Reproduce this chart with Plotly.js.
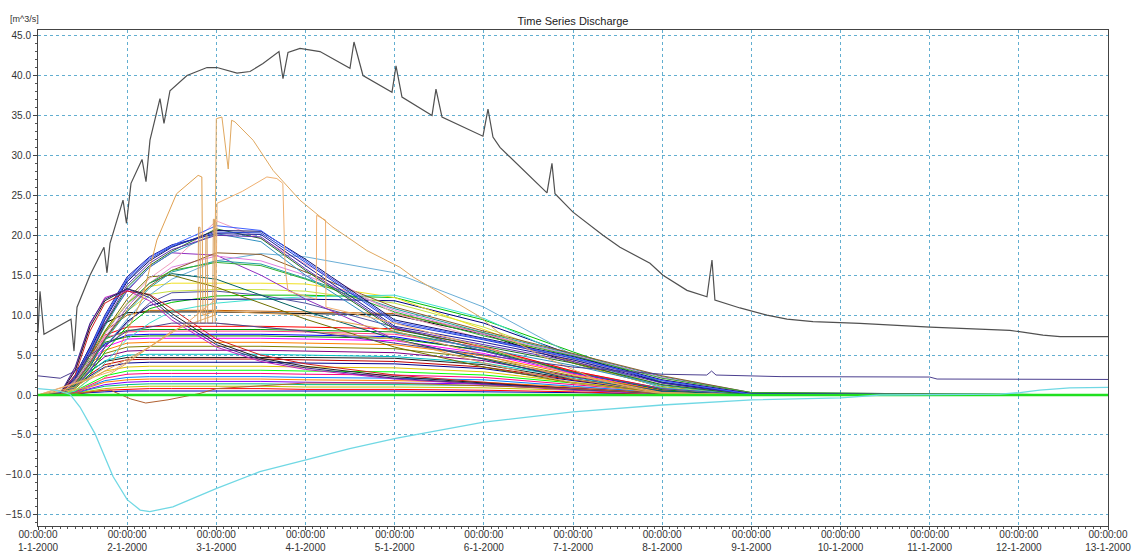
<!DOCTYPE html>
<html><head><meta charset="utf-8">
<script src="https://cdn.plot.ly/plotly-3.0.1.min.js"></script>
<style>html,body{margin:0;padding:0;background:#fff}#chart{width:1138px;height:554px}</style>
</head><body><div id="chart"></div>
<script>
// ---------- data (hours after 1-1-2000 00:00) ----------
const mainT = [0,0.54,1.61,8.88,9.69,10.5,14.0,17.76,18.57,19.38,22.88,23.82,25.03,28.0,29.07,30.14,32.83,33.91,35.52,40.1,45.49,48.18,53.56,57.06,60.56,64.86,65.94,67.29,70.52,75.9,83.97,85.05,87.47,95.28,96.36,97.97,106.05,107.12,108.74,119.77,121.12,122.46,124.35,137.0,138.34,139.15,144.0,152.07,156.65,164.72,168.22,174.68,180.06,181.41,182.2,188.94,196.2,201.6,208.6,221.2,240.1,261.6,270.5,275.1,288];
const mainV = [7.8,13.0,7.6,9.5,5.5,11,15,18.5,15.3,19,24.4,21.5,26.5,29.5,26.7,31.9,37.1,34,38.1,40,41.0,41.0,40.3,40.5,41.5,43.0,39.6,42.9,43.4,43.0,40.9,44.2,40.0,37.9,41.2,37.3,35.0,38.3,34.8,32.4,35.8,32.3,31.0,25.3,29.0,25.2,22.9,20,18.5,16.5,15.0,13.1,12.3,16.9,11.9,10.9,10.0,9.5,9.2,8.96,8.5,8.1,7.5,7.3,7.3];

const cyanT = [0,4.6,8.6,11.3,15.3,20.2,24.0,27.5,30.1,36.3,48.1,59.7,72.4,83.9,96.6,120,144,168,192.2,216.1,226.6,258.9,264.3,269.6,277.7,288];
const cyanV = [0.8,0.6,0.1,-1.5,-4.8,-10.2,-13.1,-14.4,-14.6,-14.0,-11.7,-9.6,-8.1,-6.7,-5.4,-3.4,-2.1,-1.25,-0.6,-0.35,0,0.1,0.3,0.6,0.9,0.95];

const purpleTailT = [0,6,10,14,24,36,48,72,96,120,144,168,180,181.3,182.5,200,240,242,288];
const purpleTailV = [2.4,2.1,3.0,5,8,9,9,8,6.5,5,3.5,2.6,2.5,3.0,2.5,2.3,2.25,2.0,1.95];

const orangeAT = [0,10,20,28,32,37.3,43.1,44.1,44.4,48,72,96,120,144,168,192,288];
const orangeAV = [0,1,4,12,19.4,25.2,27.5,27.3,10,10.5,10,8,5,2,0.3,0,0];

const orangeBT = [0,14,24,36,47.5,48,49.5,51.2,52.1,53.0,57.9,63.3,70.5,79.4,88.5,97.4,100.9,110,118.9,124.3,135,150,166,192,288];
const orangeBV = [0,1,4,8,10,34.6,34.8,28.3,34.4,34.2,31.9,28.1,24.4,21,18.1,16,14.8,12.3,9.8,7.7,5,2,0.3,0,0];

const orangeCT = [0,20,40,47.9,48.2,55,61.6,64.3,65.9,66.5,67.3,74.9,75.0,77.4,77.5,96,120,144,168,192,288];
const orangeCV = [0,3,9,12,24,25.5,27.3,27.1,26.5,16,13,12,22.5,21.9,11,9,6,2.5,0.3,0,0];

const orangePulseT = [0,14,30,40,43,43.2,43.6,43.8,45,45.2,45.5,45.7,47,47.2,47.5,47.7,60,96,120,144,168,192,288];
const orangePulseV = [0,2,6,9,9,21,21,9,9,20,20,9,9,22,22,9,8.5,7,4,1.5,0.2,0,0];

const brownDipT = [0,12,19.5,25,29,35,43.6,48,72,96,144,168,192,288];
const brownDipV = [0,0.3,0.6,-0.5,-1.0,-0.6,0.2,0.8,1.5,1.5,0.8,0.2,0,0];

// common grid for the bundle of sub-catchment series
const T = [0,6,10,14,18,24,30,36,48,60,72,96,120,144,168,192,288];
const a1 = [0,0.2,3.5,9,12,13.3,12.2,9.8,6.3,4.4,3.4,2.1,1.4,0.7,0.2,0,0];
const a2 = [0,0.2,3,8.5,11.8,13.3,12.5,10.2,6.6,4.6,3.6,2.3,1.5,0.8,0.2,0,0];
const a3 = [0,0.1,2.5,8,11.5,13,12.6,10.8,7,5,3.9,2.5,1.6,0.8,0.2,0,0];
const a4 = [0,0.2,3.2,8.8,12.2,13.1,11.8,9.4,6,4.2,3.2,2,1.3,0.6,0.1,0,0];
const b1 = [0,0.3,2.5,6,10,14.8,17.3,18.8,20.2,20.1,16.2,8.6,6.6,4.4,1.6,0.1,0];
const b2 = [0,0.3,2.3,5.7,9.6,14.4,17,18.6,20.4,20.3,16.6,9.0,6.9,4.6,1.8,0.1,0];
const b3 = [0,0.2,2.2,5.5,9.4,14.2,16.8,18.5,20.6,20.5,17,9.4,7.1,4.8,1.9,0.2,0];
const b4 = [0,0.2,2,5.2,9,13.8,16.5,18.2,20,19.8,15.8,8.4,6.3,4.2,1.5,0.1,0];
const b5 = [0,0.2,2,5,8.8,13.5,16.2,18,20.8,19.6,15.6,8.2,6.1,4,1.3,0,0];
const b6 = [0,0.2,2,5,8.6,13.2,16,17.8,20.2,19.2,15,7.8,5.8,3.7,1.2,0,0];
const b7 = [0,0.3,2.4,5.8,9.8,14.6,17.2,18.7,21.2,20.6,16.8,9.2,7,4.7,1.8,0.1,0];
const c1 = [0,0.2,1.8,4.5,7.6,11.5,14.6,16.6,21.8,19.6,16.4,10.2,7,4.4,1.9,0.2,0];
const c2 = [0,0.2,1.8,4.6,7.8,11.4,14,15.6,16.6,16.2,14.5,10.4,7.4,4.9,2.1,0.3,0];
const c3 = [0,0.1,1.5,4,7,10.6,13.6,15.6,17.8,17.6,15.4,11,8,5.2,2.4,0.3,0];
const c4 = [0,0.2,1.6,4.2,7.2,11,14,16,17.4,16.8,15,10.6,7.6,5,2.2,0.2,0];
const c5 = [0,0.1,1.4,3.8,6.8,10.4,13.4,15.4,16.8,16.4,14.6,10.8,7.8,5.1,2.3,0.3,0];
const d1 = [0,0.1,1,3,6,9.5,12.5,14.5,16.8,17.7,17.3,15.3,11,5,0.8,0,0];
const e1 = [0,0,0.5,2,4,7,9,10.5,11.5,12,12.3,12.5,9.6,4.6,0.9,0,0];
const f1 = [0,0,1,4,8,11.5,13.6,14,14,14,13.9,12.2,8.2,4,1,0,0];
const f2 = [0,0,0.8,3.5,7,10.5,12.6,13,13.2,13.2,13,11.5,8.5,4.5,1.2,0,0];
const g1 = [0,0,1,3,6,9.2,11.2,11.9,12,12,12,11.8,9,5,1.5,0,0];
const g2 = [0,0,0.8,2.6,5.4,8.6,10.8,11.6,12.4,12.5,12.5,12.2,9.4,5.4,1.6,0,0];
const h1 = [0,0.2,2.4,6,9,10.3,10.4,10.4,10.4,10.3,10.2,10,7.6,4,1,0,0];
const h2 = [0,0.1,1.8,5,8,10,10.6,10.6,10.6,10.5,10.4,10.2,7.8,4.2,1,0,0];
const k1 = [0,0.1,1.5,4,8,12,14.8,15,13.5,11.5,9.5,6,3.5,1.5,0.3,0,0];
const k2 = [0,0.1,1.2,3.5,7,11,14,15.2,14.5,12.5,10.5,7,4.5,2,0.5,0,0];
const k3 = [0,0.2,2,5,9,13,16,17.8,17.5,15,12,7,4.5,2,0.5,0,0];
const k4 = [0,0.1,1,3,6,9,11.5,12.8,13,12.5,11.5,8.5,5.5,2.8,0.8,0,0];
const i1 = [0,0.2,2,5,7.5,8.5,8.6,8.6,8.6,8.6,8.5,8.3,6,3,0.8,0,0];
const i2 = [0,0.2,1.8,4.6,7,8.1,8.2,8.2,8.2,8.2,8.1,7.9,5.8,2.9,0.7,0,0];
const i3 = [0,0.2,1.6,4.2,6.4,7.5,7.6,7.6,7.6,7.6,7.5,7.3,5.5,2.8,0.7,0,0];
const i4 = [0,0.1,1.5,4,6,7,7.1,7.1,7.1,7.1,7,6.8,5.2,2.7,0.7,0,0];
const i5 = [0,0.1,1.4,3.8,5.6,6.5,6.6,6.6,6.6,6.6,6.5,6.3,4.9,2.6,0.6,0,0];
const i6 = [0,0.1,1.3,3.5,5.2,6,6.1,6.1,6.1,6.1,6,5.8,4.6,2.4,0.6,0,0];
const i7 = [0,0.1,1.2,3.2,4.8,5.5,5.6,5.6,5.6,5.6,5.5,5.3,4.3,2.3,0.6,0,0];
const i8 = [0,0.1,1.1,2.9,4.3,5,5.1,5.1,5.1,5.1,5,4.8,4,2.2,0.5,0,0];
const i9 = [0,0.1,1.2,3,4.2,4.7,4.7,4.7,4.7,4.7,4.7,4.6,3.8,2,0.5,0,0];
const i10 = [0,0.1,1,2.6,3.8,4.4,4.5,4.5,4.5,4.5,4.4,4.2,3.5,1.9,0.5,0,0];
const i11 = [0,0.1,0.9,2.4,3.5,4,4.1,4.1,4.1,4.1,4,3.9,3.3,1.8,0.4,0,0];
const i12 = [0,0,0.6,2,3,3.5,3.6,3.6,3.6,3.6,3.5,3.4,2.9,1.6,0.4,0,0];
const i13 = [0,0.1,1.8,5,7.2,7.9,8,8,8,8,7.9,7.6,5.9,3,0.8,0,0];
const i14 = [0,0.1,1.5,4.3,6.6,7.3,7.4,7.4,7.4,7.4,7.3,7.1,5.6,2.9,0.7,0,0];
const j1 = [0,0,0.5,1.5,2.4,3,3.1,3.1,3.1,3.1,3,2.9,2.5,1.5,0.4,0,0];
const j2 = [0,0,0.4,1.3,2.1,2.6,2.7,2.7,2.7,2.7,2.6,2.5,2.2,1.3,0.4,0,0];
const j3 = [0,0,0.4,1.1,1.8,2.2,2.3,2.3,2.3,2.3,2.2,2.1,1.9,1.1,0.3,0,0];
const j4 = [0,0,0.3,1,1.6,1.9,2,2,2,2,1.9,1.8,1.6,1,0.3,0,0];
const j5 = [0,0,0.3,0.8,1.3,1.6,1.7,1.7,1.7,1.7,1.6,1.5,1.4,0.9,0.3,0,0];
const j6 = [0,0,0.2,0.7,1.1,1.3,1.4,1.4,1.4,1.4,1.3,1.3,1.2,0.8,0.2,0,0];
const j7 = [0,0,0.2,0.5,0.8,1,1.1,1.1,1.1,1.1,1,1,0.9,0.6,0.2,0,0];
const j8 = [0,0,0.1,0.4,0.6,0.7,0.8,0.8,0.8,0.8,0.7,0.7,0.6,0.4,0.1,0,0];
const j9 = [0,0,0.1,0.3,0.4,0.5,0.5,0.5,0.5,0.5,0.5,0.5,0.4,0.3,0.1,0,0];
const base = [0,0,0,0,0,0,0,0,0,0,0,0,0,0,0,0,0];

const dayTicks = [0,1,2,3,4,5,6,7,8,9,10,11,12];

// ---------- drawing ----------
const t0 = Date.UTC(2000,0,1);
function pad(n){return (n<10?'0':'')+n;}
function toDate(h){
  const d = new Date(t0 + h*3600000);
  return d.getUTCFullYear()+'-'+pad(d.getUTCMonth()+1)+'-'+pad(d.getUTCDate())+' '+pad(d.getUTCHours())+':'+pad(d.getUTCMinutes())+':'+pad(d.getUTCSeconds());
}
function line(t, v, color, width){
  return {x: t.map(toDate), y: v, type:'scatter', mode:'lines', line:{color:color, width:width||1}, hoverinfo:'skip', showlegend:false};
}
const bundle = [
  [j9,'#0000c0'],[j8,'#ff0000'],[j7,'#c0c000'],[j6,'#00c080'],[j5,'#8000ff'],[j4,'#ff8000'],[j3,'#0080ff'],[j2,'#ff0080'],[j1,'#00ff00'],
  [i12,'#e0c000'],[i11,'#000090'],[i10,'#c00000'],[i9,'#202020'],[i8,'#00c0c0'],[i7,'#800080'],[i6,'#808000'],[i5,'#ff8000'],[i4,'#ff00ff'],[i3,'#0000ff'],[i14,'#008000'],[i2,'#00a000'],[i13,'#ff4080'],[i1,'#ff0000'],
  [h2,'#c06000'],[h1,'#000000'],[g2,'#00c000'],[g1,'#000080'],[f2,'#c8e040'],[f1,'#f0e020'],[e1,'#40e0d0'],[d1,'#6aaed6'],
  [k4,'#5050a0'],[k3,'#9030c0'],[k2,'#006060'],[k1,'#707000'],
  [c5,'#20a0a0'],[c4,'#e080e0'],[c3,'#8a5a2a'],[c2,'#30b030'],[c1,'#f0a0c0'],
  [b6,'#3090c0'],[b5,'#207020'],[b4,'#6030b0'],[b3,'#10106a'],[b2,'#2040d0'],[b1,'#1a1a9a'],[b7,'#4060ff'],
  [a4,'#c020c0'],[a3,'#d02020'],[a2,'#202020'],[a1,'#3a2a8a']
];
const traces = [];
bundle.forEach(b => traces.push(line(T, b[0], b[1], 1)));
traces.push(line(brownDipT, brownDipV, '#b06030', 1));
traces.push(line(orangePulseT, orangePulseV, '#d8a060', 1));
traces.push(line(orangeCT, orangeCV, '#f0b070', 1));
traces.push(line(orangeAT, orangeAV, '#e0a050', 1));
traces.push(line(orangeBT, orangeBV, '#e0a860', 1));
traces.push(line(purpleTailT, purpleTailV, '#4b3f8f', 1));
traces.push(line(T, base, '#20e020', 2.5));
traces.push(line(cyanT, cyanV, '#70d8e4', 1.3));
traces.push(line(mainT, mainV, '#505050', 1.2));

const gridCol = '#62aed0';
const fontFam = 'Liberation Sans, Arial, sans-serif';
const layout = {
  width:1138, height:554,
  margin:{l:38, r:30, t:30, b:28, pad:0},
  paper_bgcolor:'#fff', plot_bgcolor:'#fff',
  title:{text:'Time Series Discharge', font:{family:fontFam, size:11, color:'#222'}, x:0.5, xref:'paper', y:0.962, yref:'container', yanchor:'middle'},
  xaxis:{type:'date', range:[toDate(0), toDate(288)],
    tickvals: dayTicks.map(d=>toDate(d*24)), tickformat:'%H:%M:%S<br>%-d-%-m-%Y',
    tickfont:{family:fontFam, size:10, color:'#333'}, ticklabelstandoff:-4,
    showgrid:true, gridcolor:gridCol, griddash:'dot', gridwidth:1,
    ticks:'outside', ticklen:3, tickcolor:'#444',
    minor:{dtick:7200000, ticks:'outside', ticklen:2, tickcolor:'#555', showgrid:false},
    showline:true, linecolor:'#444', linewidth:1, mirror:true, zeroline:false},
  yaxis:{range:[-16.4, 45.7], tickvals:[-15,-10,-5,0,5,10,15,20,25,30,35,40,45], tickformat:'.1f',
    tickfont:{family:fontFam, size:10, color:'#333'},
    showgrid:true, gridcolor:gridCol, griddash:'dot', gridwidth:1,
    ticks:'outside', ticklen:4, tickcolor:'#444',
    minor:{dtick:1, ticks:'outside', ticklen:2, tickcolor:'#555', showgrid:false},
    showline:true, linecolor:'#444', linewidth:1, mirror:true, zeroline:false},
  annotations:[{text:'[m^3/s]', xref:'paper', yref:'paper', x:-0.028, y:1.008, xanchor:'left', yanchor:'bottom', showarrow:false, font:{family:fontFam, size:9, color:'#333'}}]
};
Plotly.newPlot('chart', traces, layout, {staticPlot:true, displayModeBar:false});
</script></body></html>
